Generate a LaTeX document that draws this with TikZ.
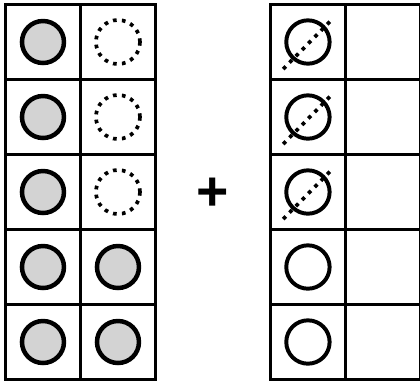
\documentclass[tikz,border=0pt]{standalone}
\usepackage{fontspec}
\setmainfont{Liberation Sans}
\usepackage{tikz}
\definecolor{cellgray}{RGB}{211,211,211}

\begin{document}
\begin{tikzpicture}[
            x=1cm,y=1cm,
            gridline/.style={draw=black,line width=1.4pt,line cap=rect},
            fullDot/.style={circle,draw=black,line width=1.7pt,fill=cellgray,inner sep=0pt,minimum size=5.6mm},
            ghostDot/.style={circle,draw=black,dotted,line width=1.4pt,inner sep=0pt,minimum size=5.87mm},
            openDot/.style={circle,draw=black,line width=1.5pt,inner sep=0pt,minimum size=5.78mm},
            strike/.style={draw=black,dotted,line width=1.4pt},
            plusSign/.style={font=\bfseries\fontsize{21}{21}\selectfont,inner sep=0pt},
        ]
            \useasboundingbox (-0.073,-0.047) rectangle (5.527,5.06);

            %--- Left frame: 5 rows, 2 columns ---%
            \draw[gridline] (0,0) grid (2,5);

            %--- Left frame: counters ---%
            \node[fullDot]  (l1a) at (0.5,4.5) {};
            \node[ghostDot] (l1b) at (1.5,4.5) {};
            \node[fullDot]  (l2a) at (0.5,3.5) {};
            \node[ghostDot] (l2b) at (1.5,3.5) {};
            \node[fullDot]  (l3a) at (0.5,2.5) {};
            \node[ghostDot] (l3b) at (1.5,2.5) {};
            \node[fullDot]  (l4a) at (0.5,1.5) {};
            \node[fullDot]  (l4b) at (1.5,1.5) {};
            \node[fullDot]  (l5a) at (0.5,0.5) {};
            \node[fullDot]  (l5b) at (1.5,0.5) {};

            %--- Plus sign ---%
            \node[plusSign] (plus) at (2.763,2.473) {+};

            %--- Right frame ---%
            \begin{scope}[shift={(3.533,0)}]
                \draw[gridline] (0,0) grid (2,5);

                \node[openDot] (r1a) at (0.5,4.5) {};
                \node[openDot] (r2a) at (0.5,3.5) {};
                \node[openDot] (r3a) at (0.5,2.5) {};
                \node[openDot] (r4a) at (0.5,1.5) {};
                \node[openDot] (r5a) at (0.5,0.5) {};

                %--- Crossed-out counters ---%
                \draw[strike] ([shift={(-0.33,-0.36)}]r1a.center) -- ([shift={(0.34,0.32)}]r1a.center);
                \draw[strike] ([shift={(-0.33,-0.36)}]r2a.center) -- ([shift={(0.34,0.32)}]r2a.center);
                \draw[strike] ([shift={(-0.33,-0.36)}]r3a.center) -- ([shift={(0.34,0.32)}]r3a.center);
            \end{scope}

        \end{tikzpicture}
\end{document}
